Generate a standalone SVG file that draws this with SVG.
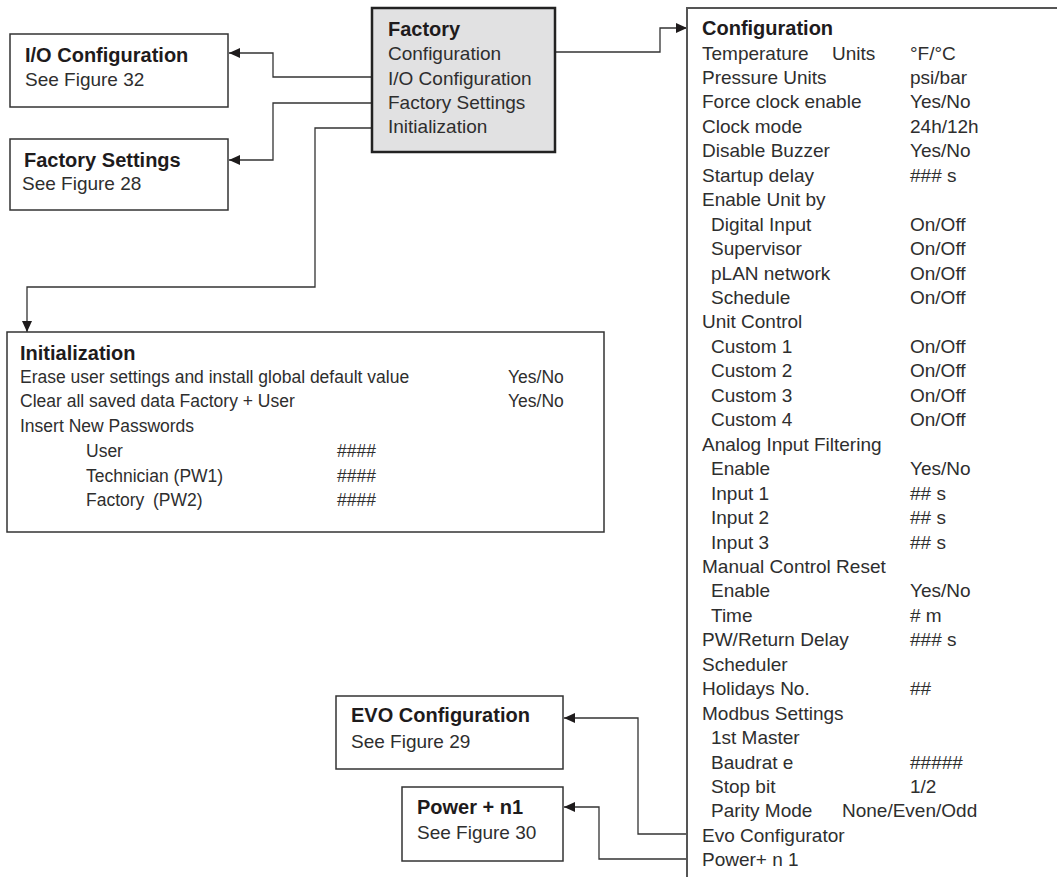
<svg xmlns="http://www.w3.org/2000/svg" width="1057" height="877" viewBox="0 0 1057 877">
<defs>
<style>
text{font-family:"Liberation Sans",Arial,sans-serif;font-size:19px;fill:#2e2e2e}
.b{font-weight:bold;font-size:20px;fill:#1e1b1c}
.s{font-size:17.5px}
.box{fill:#fff;stroke:#333;stroke-width:1.5}
.cfg{fill:#fff;stroke:#555;stroke-width:2}
.fac{fill:#e1e1e2;stroke:#222;stroke-width:2.5}
.con{fill:none;stroke:#333;stroke-width:1.3}
</style>
<marker id="ah" markerUnits="userSpaceOnUse" markerWidth="11" markerHeight="10" refX="11" refY="5" orient="auto">
<path d="M0,0 L11,5 L0,10 z" fill="#1e1b1c"/>
</marker>
</defs>
<rect width="1057" height="877" fill="#fff"/>

<g id="connectors">
<path class="con" d="M372,77 H273 V53 H229" marker-end="url(#ah)"/>
<path class="con" d="M372,103 H273 V160 H229" marker-end="url(#ah)"/>
<path class="con" d="M372,128 H315 V287 H27 V332" marker-end="url(#ah)"/>
<path class="con" d="M555,52 H660 V28 H687" marker-end="url(#ah)"/>
<path class="con" d="M687,834 H638 V718 H564" marker-end="url(#ah)"/>
<path class="con" d="M687,859 H599 V807 H564" marker-end="url(#ah)"/>
</g>

<g id="factory">
<rect class="fac" x="372" y="8" width="183" height="144"/>
<text class="b" x="388" y="36">Factory</text>
<text x="388" y="60">Configuration</text>
<text x="388" y="85">I/O Configuration</text>
<text x="388" y="109">Factory Settings</text>
<text x="388" y="133">Initialization</text>
</g>

<g id="io-configuration">
<rect class="box" x="10" y="34" width="218" height="73"/>
<text class="b" x="25" y="62">I/O Configuration</text>
<text x="25" y="86">See Figure 32</text>
</g>

<g id="factory-settings">
<rect class="box" x="10" y="139" width="218" height="71"/>
<text class="b" x="24" y="167">Factory Settings</text>
<text x="22" y="190">See Figure 28</text>
</g>

<g id="initialization">
<rect class="box" x="7" y="332" width="597" height="200"/>
<text class="b" x="20" y="360">Initialization</text>
<text class="s" x="20" y="383">Erase user settings and install global default value</text>
<text class="s" x="508" y="383">Yes/No</text>
<text class="s" x="20" y="407">Clear all saved data Factory + User</text>
<text class="s" x="508" y="407">Yes/No</text>
<text class="s" x="20" y="432">Insert New Passwords</text>
<text class="s" x="86" y="457">User</text>
<text class="s" x="337" y="457">####</text>
<text class="s" x="86" y="482">Technician (PW1)</text>
<text class="s" x="337" y="482">####</text>
<text class="s" x="86" y="506">Factory <tspan x="153">(PW2)</tspan></text>
<text class="s" x="337" y="506">####</text>
</g>

<g id="evo-configuration">
<rect class="box" x="336" y="696" width="227" height="73"/>
<text class="b" x="351" y="722">EVO Configuration</text>
<text x="351" y="748">See Figure 29</text>
</g>

<g id="power-n1">
<rect class="box" x="402" y="787" width="161" height="74"/>
<text class="b" x="417" y="814">Power + n1</text>
<text x="417" y="839">See Figure 30</text>
</g>

<g id="configuration">
<rect class="cfg" x="687" y="8" width="400" height="900"/>
<text class="b" x="702" y="35">Configuration</text>
<text x="702" y="59.5">Temperature <tspan x="832">Units</tspan></text><text x="910" y="59.5">°F/°C</text>
<text x="702" y="84">Pressure Units</text><text x="910" y="84">psi/bar</text>
<text x="702" y="108.4">Force clock enable</text><text x="910" y="108.4">Yes/No</text>
<text x="702" y="132.8">Clock mode</text><text x="910" y="132.8">24h/12h</text>
<text x="702" y="157.3">Disable Buzzer</text><text x="910" y="157.3">Yes/No</text>
<text x="702" y="181.7">Startup delay</text><text x="910" y="181.7">### s</text>
<text x="702" y="206.2">Enable Unit by</text>
<text x="711" y="230.6">Digital Input</text><text x="910" y="230.6">On/Off</text>
<text x="711" y="255.1">Supervisor</text><text x="910" y="255.1">On/Off</text>
<text x="711" y="279.5">pLAN network</text><text x="910" y="279.5">On/Off</text>
<text x="711" y="304">Schedule</text><text x="910" y="304">On/Off</text>
<text x="702" y="328.4">Unit Control</text>
<text x="711" y="352.9">Custom 1</text><text x="910" y="352.9">On/Off</text>
<text x="711" y="377.3">Custom 2</text><text x="910" y="377.3">On/Off</text>
<text x="711" y="401.8">Custom 3</text><text x="910" y="401.8">On/Off</text>
<text x="711" y="426.2">Custom 4</text><text x="910" y="426.2">On/Off</text>
<text x="702" y="450.7">Analog Input Filtering</text>
<text x="711" y="475.1">Enable</text><text x="910" y="475.1">Yes/No</text>
<text x="711" y="499.6">Input 1</text><text x="910" y="499.6">## s</text>
<text x="711" y="524">Input 2</text><text x="910" y="524">## s</text>
<text x="711" y="548.5">Input 3</text><text x="910" y="548.5">## s</text>
<text x="702" y="572.9">Manual Control Reset</text>
<text x="711" y="597.4">Enable</text><text x="910" y="597.4">Yes/No</text>
<text x="711" y="621.8">Time</text><text x="910" y="621.8"># m</text>
<text x="702" y="646.3">PW/Return Delay</text><text x="910" y="646.3">### s</text>
<text x="702" y="670.7">Scheduler</text>
<text x="702" y="695.2">Holidays No.</text><text x="910" y="695.2">##</text>
<text x="702" y="719.6">Modbus Settings</text>
<text x="711" y="744.1">1st Master</text>
<text x="711" y="768.5">Baudrat e</text><text x="910" y="768.5">#####</text>
<text x="711" y="793">Stop bit</text><text x="910" y="793">1/2</text>
<text x="711" y="817.4">Parity Mode</text><text x="842" y="817.4">None/Even/Odd</text>
<text x="702" y="841.9">Evo Configurator</text>
<text x="702" y="866.3">Power+ n 1</text>
</g>
</svg>
